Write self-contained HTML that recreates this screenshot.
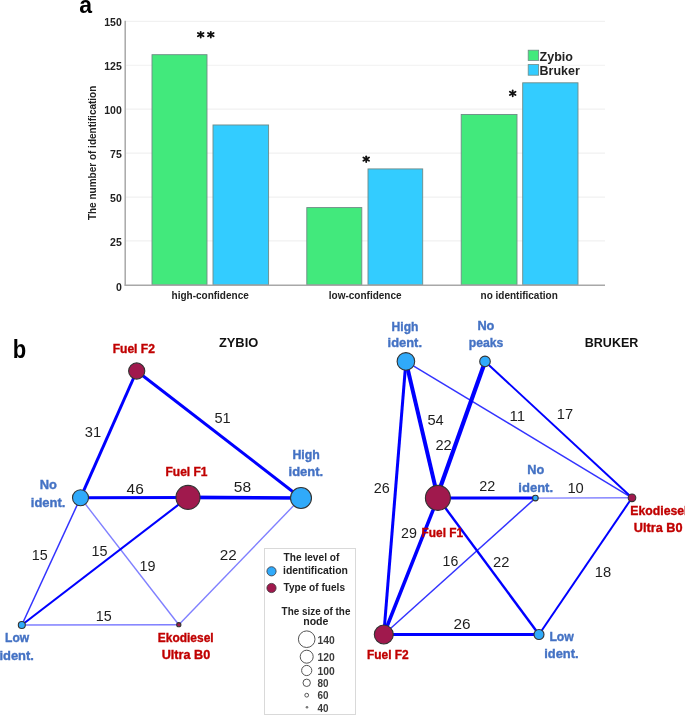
<!DOCTYPE html><html><head><meta charset="utf-8"><style>html,body{margin:0;padding:0;background:#fff;}svg{display:block;will-change:transform;}text{font-family:"Liberation Sans",sans-serif;}</style></head><body>
<svg width="685" height="715" viewBox="0 0 685 715">
<rect width="685" height="715" fill="#fff"/>
<line x1="126" y1="240.97" x2="605" y2="240.97" stroke="#f1f1f1" stroke-width="1.2"/>
<line x1="126" y1="197.03" x2="605" y2="197.03" stroke="#f1f1f1" stroke-width="1.2"/>
<line x1="126" y1="153.10" x2="605" y2="153.10" stroke="#f1f1f1" stroke-width="1.2"/>
<line x1="126" y1="109.17" x2="605" y2="109.17" stroke="#f1f1f1" stroke-width="1.2"/>
<line x1="126" y1="65.23" x2="605" y2="65.23" stroke="#f1f1f1" stroke-width="1.2"/>
<line x1="126" y1="21.30" x2="605" y2="21.30" stroke="#f1f1f1" stroke-width="1.2"/>
<rect x="152" y="54.69" width="55.00" height="230.21" fill="#42E97C" stroke="#6f8a86" stroke-width="0.9"/>
<rect x="213" y="124.98" width="55.60" height="159.92" fill="#33CCFF" stroke="#6f8a86" stroke-width="0.9"/>
<rect x="306.8" y="207.58" width="55.00" height="77.32" fill="#42E97C" stroke="#6f8a86" stroke-width="0.9"/>
<rect x="368" y="168.92" width="54.70" height="115.98" fill="#33CCFF" stroke="#6f8a86" stroke-width="0.9"/>
<rect x="461.2" y="114.44" width="55.80" height="170.46" fill="#42E97C" stroke="#6f8a86" stroke-width="0.9"/>
<rect x="522.7" y="82.81" width="55.30" height="202.09" fill="#33CCFF" stroke="#6f8a86" stroke-width="0.9"/>
<line x1="125.2" y1="20.8" x2="125.2" y2="285.5" stroke="#a8a8a8" stroke-width="1.5"/>
<line x1="124.5" y1="285.2" x2="605" y2="285.2" stroke="#a8a8a8" stroke-width="1.5"/>
<text x="121.8" y="290.60" font-size="10.5" font-weight="bold" fill="#222" text-anchor="end">0</text>
<text x="121.8" y="245.87" font-size="10.5" font-weight="bold" fill="#222" text-anchor="end">25</text>
<text x="121.8" y="201.93" font-size="10.5" font-weight="bold" fill="#222" text-anchor="end">50</text>
<text x="121.8" y="158.00" font-size="10.5" font-weight="bold" fill="#222" text-anchor="end">75</text>
<text x="121.8" y="114.07" font-size="10.5" font-weight="bold" fill="#222" text-anchor="end">100</text>
<text x="121.8" y="70.13" font-size="10.5" font-weight="bold" fill="#222" text-anchor="end">125</text>
<text x="121.8" y="26.20" font-size="10.5" font-weight="bold" fill="#222" text-anchor="end">150</text>
<text transform="translate(96,152.9) rotate(-90)" font-size="10" font-weight="bold" fill="#222" text-anchor="middle">The number of identification</text>
<text x="210.15" y="299.2" font-size="10" font-weight="bold" fill="#222" text-anchor="middle">high-confidence</text>
<text x="365.2" y="299.2" font-size="10" font-weight="bold" fill="#222" text-anchor="middle">low-confidence</text>
<text x="519.15" y="299.2" font-size="10" font-weight="bold" fill="#222" text-anchor="middle">no identification</text>
<rect x="528.2" y="50.2" width="10.4" height="10.2" fill="#42E97C" stroke="#6f8a86" stroke-width="0.8"/>
<rect x="528.2" y="64.6" width="10.4" height="10.6" fill="#33CCFF" stroke="#6f8a86" stroke-width="0.8"/>
<text x="539.6" y="61" font-size="12.5" font-weight="bold" fill="#222">Zybio</text>
<text x="539.6" y="75.4" font-size="12.5" font-weight="bold" fill="#222">Bruker</text>
<line x1="200.70" y1="31.80" x2="200.70" y2="37.60" stroke="#111" stroke-width="1.8" stroke-linecap="round"/><line x1="197.86" y1="33.06" x2="203.54" y2="36.34" stroke="#111" stroke-width="1.8" stroke-linecap="round"/><line x1="203.54" y1="33.06" x2="197.86" y2="36.34" stroke="#111" stroke-width="1.8" stroke-linecap="round"/>
<line x1="210.80" y1="31.80" x2="210.80" y2="37.60" stroke="#111" stroke-width="1.8" stroke-linecap="round"/><line x1="207.96" y1="33.06" x2="213.64" y2="36.34" stroke="#111" stroke-width="1.8" stroke-linecap="round"/><line x1="213.64" y1="33.06" x2="207.96" y2="36.34" stroke="#111" stroke-width="1.8" stroke-linecap="round"/>
<line x1="366.20" y1="156.30" x2="366.20" y2="162.10" stroke="#111" stroke-width="1.8" stroke-linecap="round"/><line x1="363.36" y1="157.56" x2="369.04" y2="160.84" stroke="#111" stroke-width="1.8" stroke-linecap="round"/><line x1="369.04" y1="157.56" x2="363.36" y2="160.84" stroke="#111" stroke-width="1.8" stroke-linecap="round"/>
<line x1="512.70" y1="90.50" x2="512.70" y2="96.30" stroke="#111" stroke-width="1.8" stroke-linecap="round"/><line x1="509.86" y1="91.76" x2="515.54" y2="95.04" stroke="#111" stroke-width="1.8" stroke-linecap="round"/><line x1="515.54" y1="91.76" x2="509.86" y2="95.04" stroke="#111" stroke-width="1.8" stroke-linecap="round"/>
<text x="79.2" y="12.8" font-size="23" font-weight="bold" fill="#000">a</text>
<text transform="translate(12.8,357.6) scale(0.88,1)" font-size="25" font-weight="bold" fill="#000">b</text>
<line x1="136.7" y1="371" x2="80.5" y2="497.8" stroke="#0000ff" stroke-width="3" stroke-opacity="1"/>
<line x1="136.7" y1="371" x2="301" y2="498" stroke="#0000ff" stroke-width="3" stroke-opacity="1"/>
<line x1="80.5" y1="497.8" x2="188" y2="497.4" stroke="#0000ff" stroke-width="3" stroke-opacity="1"/>
<line x1="188" y1="497.4" x2="301" y2="498" stroke="#0000ff" stroke-width="3.6" stroke-opacity="1"/>
<line x1="80.5" y1="497.8" x2="21.8" y2="625" stroke="#0000ff" stroke-width="1.5" stroke-opacity="0.8"/>
<line x1="188" y1="497.4" x2="21.8" y2="625" stroke="#0000ff" stroke-width="2.1" stroke-opacity="1"/>
<line x1="80.5" y1="497.8" x2="178.8" y2="624.7" stroke="#0000ff" stroke-width="1.4" stroke-opacity="0.5"/>
<line x1="301" y1="498" x2="178.8" y2="624.7" stroke="#0000ff" stroke-width="1.4" stroke-opacity="0.5"/>
<line x1="21.8" y1="625" x2="178.8" y2="624.7" stroke="#0000ff" stroke-width="1.4" stroke-opacity="0.5"/>
<line x1="405.9" y1="361.4" x2="437.9" y2="497.9" stroke="#0000ff" stroke-width="4" stroke-opacity="1"/>
<line x1="405.9" y1="361.4" x2="383.8" y2="634.5" stroke="#0000ff" stroke-width="3" stroke-opacity="1"/>
<line x1="405.9" y1="361.4" x2="632" y2="497.8" stroke="#0000ff" stroke-width="1.5" stroke-opacity="0.8"/>
<line x1="485.2" y1="361.4" x2="436.5" y2="497.9" stroke="#0000ff" stroke-width="4.3" stroke-opacity="1"/>
<line x1="485" y1="361.4" x2="632" y2="497.8" stroke="#0000ff" stroke-width="2.0" stroke-opacity="1"/>
<line x1="437.9" y1="497.9" x2="535.4" y2="498.1" stroke="#0000ff" stroke-width="3" stroke-opacity="1"/>
<line x1="535.4" y1="498.1" x2="632" y2="497.8" stroke="#0000ff" stroke-width="1.4" stroke-opacity="0.5"/>
<line x1="437.9" y1="497.9" x2="383.8" y2="634.5" stroke="#0000ff" stroke-width="3.5" stroke-opacity="1"/>
<line x1="437.9" y1="497.9" x2="539" y2="634.5" stroke="#0000ff" stroke-width="2.4" stroke-opacity="1"/>
<line x1="535.4" y1="498.1" x2="383.8" y2="634.5" stroke="#0000ff" stroke-width="1.5" stroke-opacity="0.8"/>
<line x1="383.8" y1="634.5" x2="539" y2="634.5" stroke="#0000ff" stroke-width="3" stroke-opacity="1"/>
<line x1="539" y1="634.5" x2="632" y2="497.8" stroke="#0000ff" stroke-width="2" stroke-opacity="1"/>
<circle cx="136.7" cy="371" r="8.10" fill="#A0194D" stroke="#333" stroke-width="1.1"/>
<circle cx="80.5" cy="497.8" r="8.00" fill="#30AAFA" stroke="#333" stroke-width="1.1"/>
<circle cx="188" cy="497.4" r="12.00" fill="#A0194D" stroke="#333" stroke-width="1.1"/>
<circle cx="301" cy="498" r="10.50" fill="#30AAFA" stroke="#333" stroke-width="1.1"/>
<circle cx="21.8" cy="625" r="3.50" fill="#30AAFA" stroke="#333" stroke-width="1.1"/>
<circle cx="178.8" cy="624.7" r="2.10" fill="#A0194D" stroke="#333" stroke-width="1.1"/>
<circle cx="405.9" cy="361.4" r="8.80" fill="#30AAFA" stroke="#333" stroke-width="1.1"/>
<circle cx="485" cy="361.4" r="5.30" fill="#30AAFA" stroke="#333" stroke-width="1.1"/>
<circle cx="437.9" cy="497.9" r="12.50" fill="#A0194D" stroke="#333" stroke-width="1.1"/>
<circle cx="535.4" cy="498.1" r="2.80" fill="#30AAFA" stroke="#333" stroke-width="1.1"/>
<circle cx="632" cy="497.8" r="3.80" fill="#A0194D" stroke="#333" stroke-width="1.1"/>
<circle cx="383.8" cy="634.5" r="9.50" fill="#A0194D" stroke="#333" stroke-width="1.1"/>
<circle cx="539" cy="634.5" r="5.00" fill="#30AAFA" stroke="#333" stroke-width="1.1"/>
<text x="112.7" y="352.7" font-size="12.2" fill="#C00000" font-weight="bold" textLength="42.2" lengthAdjust="spacingAndGlyphs" stroke="#C00000" stroke-width="0.35">Fuel F2</text>
<text x="39.7" y="489" font-size="12.2" fill="#4472C4" font-weight="bold" textLength="17.2" lengthAdjust="spacingAndGlyphs" stroke="#4472C4" stroke-width="0.35">No</text>
<text x="30.8" y="506.8" font-size="12.2" fill="#4472C4" font-weight="bold" textLength="34.6" lengthAdjust="spacingAndGlyphs" stroke="#4472C4" stroke-width="0.35">ident.</text>
<text x="165.5" y="475.7" font-size="12.2" fill="#C00000" font-weight="bold" textLength="42.0" lengthAdjust="spacingAndGlyphs" stroke="#C00000" stroke-width="0.35">Fuel F1</text>
<text x="292.4" y="458.7" font-size="12.2" fill="#4472C4" font-weight="bold" textLength="27.4" lengthAdjust="spacingAndGlyphs" stroke="#4472C4" stroke-width="0.35">High</text>
<text x="288.6" y="475.6" font-size="12.2" fill="#4472C4" font-weight="bold" textLength="34.6" lengthAdjust="spacingAndGlyphs" stroke="#4472C4" stroke-width="0.35">ident.</text>
<text x="5.0" y="641.7" font-size="12.2" fill="#4472C4" font-weight="bold" textLength="24.2" lengthAdjust="spacingAndGlyphs" stroke="#4472C4" stroke-width="0.35">Low</text>
<text x="-0.6" y="659.6" font-size="12.2" fill="#4472C4" font-weight="bold" textLength="34.5" lengthAdjust="spacingAndGlyphs" stroke="#4472C4" stroke-width="0.35">ident.</text>
<text x="157.8" y="642" font-size="12.2" fill="#C00000" font-weight="bold" textLength="55.8" lengthAdjust="spacingAndGlyphs" stroke="#C00000" stroke-width="0.35">Ekodiesel</text>
<text x="161.7" y="658.5" font-size="12.2" fill="#C00000" font-weight="bold" textLength="48.5" lengthAdjust="spacingAndGlyphs" stroke="#C00000" stroke-width="0.35">Ultra B0</text>
<text x="391.6" y="330.6" font-size="12.2" fill="#4472C4" font-weight="bold" textLength="26.9" lengthAdjust="spacingAndGlyphs" stroke="#4472C4" stroke-width="0.35">High</text>
<text x="387.6" y="347.4" font-size="12.2" fill="#4472C4" font-weight="bold" textLength="34.4" lengthAdjust="spacingAndGlyphs" stroke="#4472C4" stroke-width="0.35">ident.</text>
<text x="477.4" y="330.1" font-size="12.2" fill="#4472C4" font-weight="bold" textLength="17.0" lengthAdjust="spacingAndGlyphs" stroke="#4472C4" stroke-width="0.35">No</text>
<text x="468.7" y="346.9" font-size="12.2" fill="#4472C4" font-weight="bold" textLength="34.6" lengthAdjust="spacingAndGlyphs" stroke="#4472C4" stroke-width="0.35">peaks</text>
<text x="421.6" y="537" font-size="12.2" fill="#C00000" font-weight="bold" textLength="41.5" lengthAdjust="spacingAndGlyphs" stroke="#C00000" stroke-width="0.35">Fuel F1</text>
<text x="527.2" y="473.8" font-size="12.2" fill="#4472C4" font-weight="bold" textLength="17.0" lengthAdjust="spacingAndGlyphs" stroke="#4472C4" stroke-width="0.35">No</text>
<text x="518.3" y="491.5" font-size="12.2" fill="#4472C4" font-weight="bold" textLength="34.8" lengthAdjust="spacingAndGlyphs" stroke="#4472C4" stroke-width="0.35">ident.</text>
<text x="630.3" y="515.2" font-size="12.2" fill="#C00000" font-weight="bold" textLength="57.2" lengthAdjust="spacingAndGlyphs" stroke="#C00000" stroke-width="0.35">Ekodiesel</text>
<text x="633.8" y="532.1" font-size="12.2" fill="#C00000" font-weight="bold" textLength="48.7" lengthAdjust="spacingAndGlyphs" stroke="#C00000" stroke-width="0.35">Ultra B0</text>
<text x="367.0" y="659.3" font-size="12.2" fill="#C00000" font-weight="bold" textLength="41.7" lengthAdjust="spacingAndGlyphs" stroke="#C00000" stroke-width="0.35">Fuel F2</text>
<text x="549.4" y="640.6" font-size="12.2" fill="#4472C4" font-weight="bold" textLength="24.5" lengthAdjust="spacingAndGlyphs" stroke="#4472C4" stroke-width="0.35">Low</text>
<text x="544.2" y="658" font-size="12.2" fill="#4472C4" font-weight="bold" textLength="34.4" lengthAdjust="spacingAndGlyphs" stroke="#4472C4" stroke-width="0.35">ident.</text>
<text x="218.9" y="346.6" font-size="13" fill="#111" font-weight="bold" textLength="39.4" lengthAdjust="spacingAndGlyphs">ZYBIO</text>
<text x="584.8" y="346.7" font-size="13" fill="#111" font-weight="bold" textLength="53.5" lengthAdjust="spacingAndGlyphs">BRUKER</text>
<text x="84.8" y="437.3" font-size="14" fill="#1e1e1e" textLength="16.3" lengthAdjust="spacingAndGlyphs">31</text>
<text x="214.4" y="423.4" font-size="14" fill="#1e1e1e" textLength="16.2" lengthAdjust="spacingAndGlyphs">51</text>
<text x="126.6" y="493.5" font-size="14" fill="#1e1e1e" textLength="17.2" lengthAdjust="spacingAndGlyphs">46</text>
<text x="233.8" y="491.9" font-size="14" fill="#1e1e1e" textLength="17.3" lengthAdjust="spacingAndGlyphs">58</text>
<text x="31.7" y="559.8" font-size="14" fill="#1e1e1e" textLength="15.9" lengthAdjust="spacingAndGlyphs">15</text>
<text x="91.6" y="556" font-size="14" fill="#1e1e1e" textLength="16.0" lengthAdjust="spacingAndGlyphs">15</text>
<text x="139.6" y="571.3" font-size="14" fill="#1e1e1e" textLength="16.0" lengthAdjust="spacingAndGlyphs">19</text>
<text x="219.8" y="559.8" font-size="14" fill="#1e1e1e" textLength="17.0" lengthAdjust="spacingAndGlyphs">22</text>
<text x="95.8" y="621.1" font-size="14" fill="#1e1e1e" textLength="15.9" lengthAdjust="spacingAndGlyphs">15</text>
<text x="427.4" y="425" font-size="14" fill="#1e1e1e" textLength="16.3" lengthAdjust="spacingAndGlyphs">54</text>
<text x="435.4" y="450" font-size="14" fill="#1e1e1e" textLength="16.3" lengthAdjust="spacingAndGlyphs">22</text>
<text x="509.4" y="420.5" font-size="14" fill="#1e1e1e" textLength="15.6" lengthAdjust="spacingAndGlyphs">11</text>
<text x="556.8" y="418.6" font-size="14" fill="#1e1e1e" textLength="16.3" lengthAdjust="spacingAndGlyphs">17</text>
<text x="373.8" y="492.8" font-size="14" fill="#1e1e1e" textLength="16.0" lengthAdjust="spacingAndGlyphs">26</text>
<text x="479.3" y="490.9" font-size="14" fill="#1e1e1e" textLength="16.0" lengthAdjust="spacingAndGlyphs">22</text>
<text x="567.4" y="492.8" font-size="14" fill="#1e1e1e" textLength="16.4" lengthAdjust="spacingAndGlyphs">10</text>
<text x="401.0" y="538" font-size="14" fill="#1e1e1e" textLength="15.9" lengthAdjust="spacingAndGlyphs">29</text>
<text x="442.6" y="565.8" font-size="14" fill="#1e1e1e" textLength="15.7" lengthAdjust="spacingAndGlyphs">16</text>
<text x="493.0" y="566.8" font-size="14" fill="#1e1e1e" textLength="16.4" lengthAdjust="spacingAndGlyphs">22</text>
<text x="594.7" y="577" font-size="14" fill="#1e1e1e" textLength="16.4" lengthAdjust="spacingAndGlyphs">18</text>
<text x="453.5" y="628.6" font-size="14" fill="#1e1e1e" textLength="17.1" lengthAdjust="spacingAndGlyphs">26</text>
<rect x="264.5" y="548.5" width="91" height="166" fill="#fff" stroke="#d9d9d9" stroke-width="1"/>
<circle cx="271.5" cy="571.3" r="4.6" fill="#30AAFA" stroke="#3b3438" stroke-width="0.8"/>
<circle cx="271.5" cy="588" r="4.6" fill="#A0194D" stroke="#3b3438" stroke-width="0.8"/>
<text x="283.5" y="560.8" font-size="10" fill="#222" font-weight="bold" textLength="55.9" lengthAdjust="spacingAndGlyphs">The level of</text>
<text x="283.0" y="574.2" font-size="10" fill="#222" font-weight="bold" textLength="64.9" lengthAdjust="spacingAndGlyphs">identification</text>
<text x="283.5" y="590.5" font-size="10" fill="#222" font-weight="bold" textLength="61.5" lengthAdjust="spacingAndGlyphs">Type of fuels</text>
<text x="281.6" y="614.8" font-size="10" fill="#222" font-weight="bold" textLength="68.8" lengthAdjust="spacingAndGlyphs">The size of the</text>
<text x="303.2" y="624.8" font-size="10" fill="#222" font-weight="bold" textLength="25.3" lengthAdjust="spacingAndGlyphs">node</text>
<circle cx="306.7" cy="639.2" r="8.3" fill="none" stroke="#555" stroke-width="1"/>
<circle cx="306.7" cy="656.7" r="6.5" fill="none" stroke="#555" stroke-width="1"/>
<circle cx="306.7" cy="670.5" r="5.1" fill="none" stroke="#555" stroke-width="1"/>
<circle cx="306.7" cy="682.8" r="3.7" fill="none" stroke="#555" stroke-width="1"/>
<circle cx="306.7" cy="695.2" r="1.9" fill="none" stroke="#555" stroke-width="1"/>
<circle cx="307" cy="707.2" r="1.3" fill="#777"/>
<text x="317.6" y="643.6" font-size="10" fill="#3a3a3a" font-weight="bold" textLength="17.2" lengthAdjust="spacingAndGlyphs">140</text>
<text x="317.6" y="660.5" font-size="10" fill="#3a3a3a" font-weight="bold" textLength="17.2" lengthAdjust="spacingAndGlyphs">120</text>
<text x="317.6" y="675.1" font-size="10" fill="#3a3a3a" font-weight="bold" textLength="17.2" lengthAdjust="spacingAndGlyphs">100</text>
<text x="317.6" y="687" font-size="10" fill="#3a3a3a" font-weight="bold" textLength="11.0" lengthAdjust="spacingAndGlyphs">80</text>
<text x="317.6" y="699" font-size="10" fill="#3a3a3a" font-weight="bold" textLength="11.0" lengthAdjust="spacingAndGlyphs">60</text>
<text x="317.6" y="711.6" font-size="10" fill="#3a3a3a" font-weight="bold" textLength="11.0" lengthAdjust="spacingAndGlyphs">40</text>
</svg></body></html>
